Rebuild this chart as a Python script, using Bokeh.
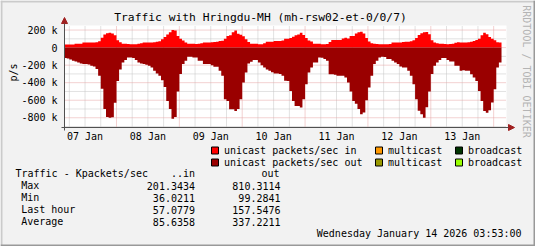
import math
from bokeh.plotting import figure
from bokeh.models import Range1d, Arrow, NormalHead, ColumnDataSource
from bokeh.core.properties import value
from bokeh.embed import file_html
from bokeh.resources import INLINE

# hours since 07 Jan 00:00 (start of each hourly sample)
hours = list(range(4, 171))

# unicast packets/sec in (thousands)
pkts_in = [34, 34, 34, 34, 45, 45, 45, 57, 57, 57,
           57, 57, 60, 72, 113, 150, 165, 170, 160, 140,
           83, 60, 45, 45, 42, 38, 38, 38, 45, 50,
           57, 57, 57, 57, 60, 68, 72, 94, 120, 150,
           175, 201, 195, 132, 100, 80, 57, 45, 45, 45,
           40, 45, 50, 57, 57, 57, 60, 64, 66, 75,
           78, 102, 132, 140, 175, 196, 158, 147, 130, 94,
           64, 45, 45, 45, 38, 38, 49, 68, 68, 68,
           75, 75, 75, 80, 102, 102, 110, 124, 140, 150,
           170, 145, 110, 80, 70, 45, 45, 45, 38, 38,
           40, 64, 87, 87, 87, 87, 105, 113, 105, 132,
           132, 160, 175, 181, 160, 110, 70, 50, 45, 42,
           38, 38, 38, 38, 40, 57, 57, 57, 57, 65,
           68, 68, 72, 85, 110, 145, 165, 175, 177, 151,
           83, 57, 50, 45, 45, 42, 38, 40, 45, 55,
           60, 57, 57, 57, 62, 68, 75, 87, 100, 140,
           170, 151, 120, 100, 83, 62, 57]

# unicast packets/sec out (thousands, drawn below zero)
pkts_out = [119, 123, 135, 150, 158, 169, 181, 188, 188, 192,
            207, 215, 245, 322, 470, 700, 790, 799, 795, 630,
            380, 250, 169, 142, 112, 112, 119, 142, 169, 181,
            188, 196, 207, 226, 265, 295, 322, 371, 450, 608,
            700, 810, 790, 500, 300, 188, 150, 104, 104, 112,
            112, 150, 150, 188, 188, 188, 200, 219, 219, 265,
            322, 589, 608, 703, 703, 723, 700, 589, 398, 284,
            181, 160, 142, 142, 169, 200, 226, 250, 265, 280,
            295, 295, 300, 322, 379, 380, 494, 608, 665, 665,
            684, 589, 417, 284, 226, 169, 169, 112, 115, 131,
            150, 303, 303, 310, 322, 322, 322, 341, 398, 500,
            608, 639, 700, 761, 740, 600, 455, 322, 188, 150,
            112, 104, 108, 131, 131, 150, 169, 188, 215, 226,
            226, 265, 322, 417, 589, 720, 760, 800, 680, 500,
            300, 207, 170, 140, 119, 119, 142, 158, 158, 207,
            207, 265, 257, 265, 265, 303, 341, 380, 494, 608,
            723, 742, 715, 627, 474, 226, 169]

day_ticks = [12, 36, 60, 84, 108, 132, 156]
day_labels = ["07 Jan", "08 Jan", "09 Jan", "10 Jan", "11 Jan", "12 Jan", "13 Jan"]
midnights = [24, 48, 72, 96, 120, 144, 168]
six_hours = [h for h in range(6, 174, 6) if h not in midnights]
y_ticks = [-800, -600, -400, -200, 0, 200]
y_labels = ["-800 k", "-600 k", "-400 k", "-200 k", "0", "200 k"]
y_minor = [-900, -700, -500, -300, -100, 100]

title = "Traffic with Hringdu-MH (mh-rsw02-et-0/0/7)"
legend_names = ["unicast packets/sec in", "multicast", "broadcast",
                "unicast packets/sec out", "multicast", "broadcast"]
legend_colors = ["#ff0000", "#ff9900", "#003300", "#9a0000", "#999900", "#99ff00"]
stat_rows = ["Max", "Min", "Last hour", "Average"]
stat_in = ["201.3434", "36.0211", "57.0779", "85.6358"]
stat_out = ["810.3114", "99.2841", "157.5476", "337.2211"]
stamp = "Wednesday January 14 2026 03:53:00"

FONT = "DejaVu Sans Mono"
C_IN = legend_colors[0]
C_OUT = legend_colors[3]

W, H = 535, 246
# visible window (data units) and where the graph canvas sits (pixels)
T0, T1 = 4.16, 172.9
V0, V1 = -911.0, 252.0
PX0, PX1, PY0, PY1 = 64, 506, 25, 127

ht = (T1 - T0) / (PX1 - PX0)
hv = (V1 - V0) / (PY1 - PY0)

p = figure(width=W, height=H, output_backend="svg", toolbar_location=None,
           x_range=Range1d(0, W), y_range=Range1d(H, 0),
           x_axis_location=None, y_axis_location=None, min_border=0)
p.extra_x_ranges = {"t": Range1d(T0 - PX0 * ht, T0 + (W - PX0) * ht)}
p.extra_y_ranges = {"v": Range1d(V0 - (H - PY1) * hv, V1 + PY0 * hv)}
p.grid.visible = False
p.outline_line_color = None
p.background_fill_color = "#f2f2f2"
p.border_fill_color = "#f2f2f2"

D = dict(x_range_name="t", y_range_name="v")

# white graph canvas
p.quad(left=[T0], right=[T1], bottom=[V0], top=[V1], fill_color="white", line_color=None, **D)

# grid
p.segment(x0=six_hours, x1=six_hours, y0=V0, y1=V1, line_color="#c4c4c4", line_dash="1 1", **D)
p.segment(x0=T0, x1=T1, y0=y_minor, y1=y_minor, line_color="#c4c4c4", line_dash="1 1", **D)
p.segment(x0=midnights, x1=midnights, y0=V0, y1=V1, line_color="#e6a3a3", line_dash="1 1", **D)
p.segment(x0=T0, x1=T1, y0=y_ticks, y1=y_ticks, line_color="#e6a3a3", line_dash="1 1", **D)

# data
xs = hours + [hours[-1] + 1]
src = ColumnDataSource(dict(
    x=xs,
    zero=[0] * len(xs),
    vin=pkts_in + [pkts_in[-1]],
    vout=[-v for v in pkts_out] + [-pkts_out[-1]],
))
p.varea_step(x="x", y1="zero", y2="vin", step_mode="after", fill_color=C_IN, source=src, **D)
p.varea_step(x="x", y1="vout", y2="zero", step_mode="after", fill_color=C_OUT, source=src, **D)

# axes with arrows
AX = "#505050"
HEAD = "#a02020"
p.add_layout(Arrow(x_start=PX0, y_start=PY1 + 3, x_end=PX0, y_end=PY0 - 8,
                   line_color=AX, line_width=1,
                   end=NormalHead(size=6, fill_color=HEAD, line_color=HEAD)))
p.add_layout(Arrow(x_start=PX0 - 3, y_start=PY1, x_end=PX1 + 8, y_end=PY1,
                   line_color=AX, line_width=1,
                   end=NormalHead(size=6, fill_color=HEAD, line_color=HEAD)))

TXT = dict(text_font=value(FONT), text_font_size=value("10px"), text_color="black",
           text_baseline="middle")

# tick labels
p.text(x=day_ticks, y=[135.5] * len(day_ticks), text=day_labels, text_align="center",
       x_range_name="t", **TXT)
p.text(x=[PX0 - 7] * len(y_ticks), y=y_ticks, text=y_labels, text_align="right",
       y_range_name="v", **TXT)

# title, unit, watermark
p.text(x=[260], y=[16.5], text=[title], text_align="center",
       text_font=value(FONT), text_font_size=value("11.3px"), text_color="black",
       text_baseline="middle")
p.text(x=[12.5], y=[72], text=["p/s"], text_align="center", angle=math.pi / 2, **TXT)
p.text(x=[526], y=[71], text=["RRDTOOL / TOBI OETIKER"], text_align="center",
       angle=-math.pi / 2, text_font=value(FONT), text_font_size=value("10px"),
       text_color="#b4b4b4", text_baseline="middle")

# legend
lx = [211, 375, 455, 211, 375, 455]
ly = [150, 150, 150, 162, 162, 162]
p.rect(x=[v + 3.5 for v in lx], y=ly, width=7, height=7, fill_color=legend_colors,
       line_color="black", line_width=1)
p.text(x=[v + 12.5 for v in lx], y=ly, text=legend_names, text_align="left", **TXT)

# stats table
rows_y = [185.3, 197.3, 209.3, 221.3]
p.text(x=[15], y=[173.3], text=["Traffic - Kpackets/sec"], text_align="left", **TXT)
p.text(x=[194.5], y=[173.3], text=["..in"], text_align="right", **TXT)
p.text(x=[279], y=[173.3], text=["out"], text_align="right", **TXT)
p.text(x=[20.7] * 4, y=rows_y, text=stat_rows, text_align="left", **TXT)
p.text(x=[194.5] * 4, y=rows_y, text=stat_in, text_align="right", **TXT)
p.text(x=[280] * 4, y=rows_y, text=stat_out, text_align="right", **TXT)

p.text(x=[521], y=[233.3], text=[stamp], text_align="right", **TXT)

# 3D frame shading
p.quad(left=[0, 0], right=[W, 2], top=[0, 0], bottom=[2, H], fill_color="#cbcbcb", line_color=None)
p.quad(left=[W - 2, 0], right=[W, W], top=[0, H - 2], bottom=[H, H], fill_color="#999999", line_color=None)

open("out.html", "w").write(file_html(p, INLINE))
